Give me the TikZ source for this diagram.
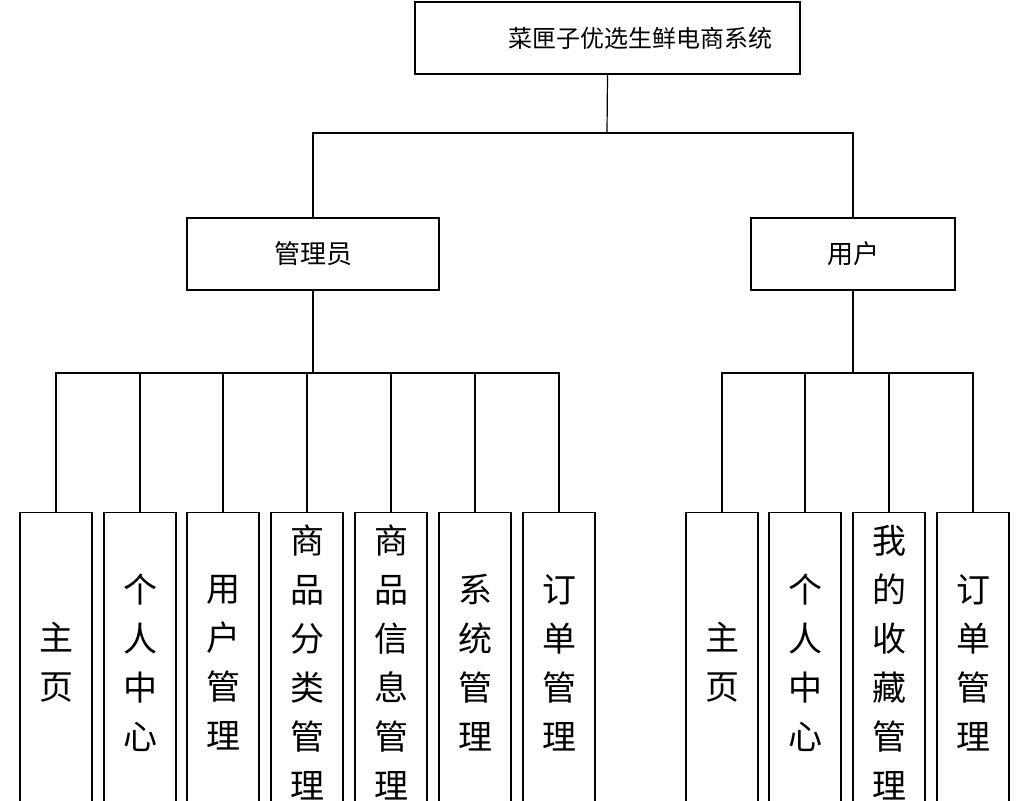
\documentclass[tikz,border=0pt]{standalone}
\usepackage{fontspec}
\setmainfont{Noto Sans CJK SC}
\begin{document}
\begin{tikzpicture}[x=1pt, y=-1pt, line width=1.2pt]
    \tikzstyle{top} = [rectangle, draw, minimum width=385pt, minimum height=72pt, inner sep=0pt, font=\fontsize{24}{28}\selectfont]
    \tikzstyle{role} = [rectangle, draw, minimum height=72pt, inner sep=0pt, font=\fontsize{26}{30}\selectfont]
    \tikzstyle{leaf} = [rectangle, draw, anchor=north, minimum width=72pt, minimum height=300pt, inner sep=0pt, text width=72pt, align=center, font=\fontsize{34}{49}\selectfont]
    \useasboundingbox (0,0) rectangle (1022,800);

    % System
    \node [top] (sys) at (607.5,38) {\hspace*{65pt}菜匣子优选生鲜电商系统};

    % Roles
    \node [role, minimum width=252pt] (admin) at (313,254) {管理员};
    \node [role, minimum width=204pt] (user) at (853,254) {用户};

    % Admin functions
    \node [leaf] (a1) at (56,512) {主\\页};
    \node [leaf] (a2) at (140,512) {个\\人\\中\\心};
    \node [leaf] (a3) at (223,512) {用\\户\\管\\理};
    \node [leaf] (a4) at (307,512) {商\\品\\分\\类\\管\\理};
    \node [leaf] (a5) at (391,512) {商\\品\\信\\息\\管\\理};
    \node [leaf] (a6) at (475,512) {系\\统\\管\\理};
    \node [leaf] (a7) at (559,512) {订\\单\\管\\理};

    % User functions
    \node [leaf] (u1) at (722,512) {主\\页};
    \node [leaf] (u2) at (805,512) {个\\人\\中\\心};
    \node [leaf] (u3) at (889,512) {我\\的\\收\\藏\\管\\理};
    \node [leaf] (u4) at (973,512) {订\\单\\管\\理};

    % Connections
    \coordinate (sysbus) at (607,133);
    \coordinate (adminbus) at (313,373);
    \coordinate (userbus) at (853,373);
    \draw (sys.south) -- (sysbus);
    \draw (admin.north) |- (sysbus) -| (user.north);
    \draw (admin.south) -- (adminbus);
    \draw (user.south) -- (userbus);
    \draw (a1.north) |- (adminbus) -| (a7.north);
    \draw (u1.north) |- (userbus) -| (u4.north);
    \draw (a2.north) -- (a2.north |- adminbus);
    \draw (a3.north) -- (a3.north |- adminbus);
    \draw (a4.north) -- (a4.north |- adminbus);
    \draw (a5.north) -- (a5.north |- adminbus);
    \draw (a6.north) -- (a6.north |- adminbus);
    \draw (u2.north) -- (u2.north |- userbus);
    \draw (u3.north) -- (u3.north |- userbus);
\end{tikzpicture}
\end{document}
